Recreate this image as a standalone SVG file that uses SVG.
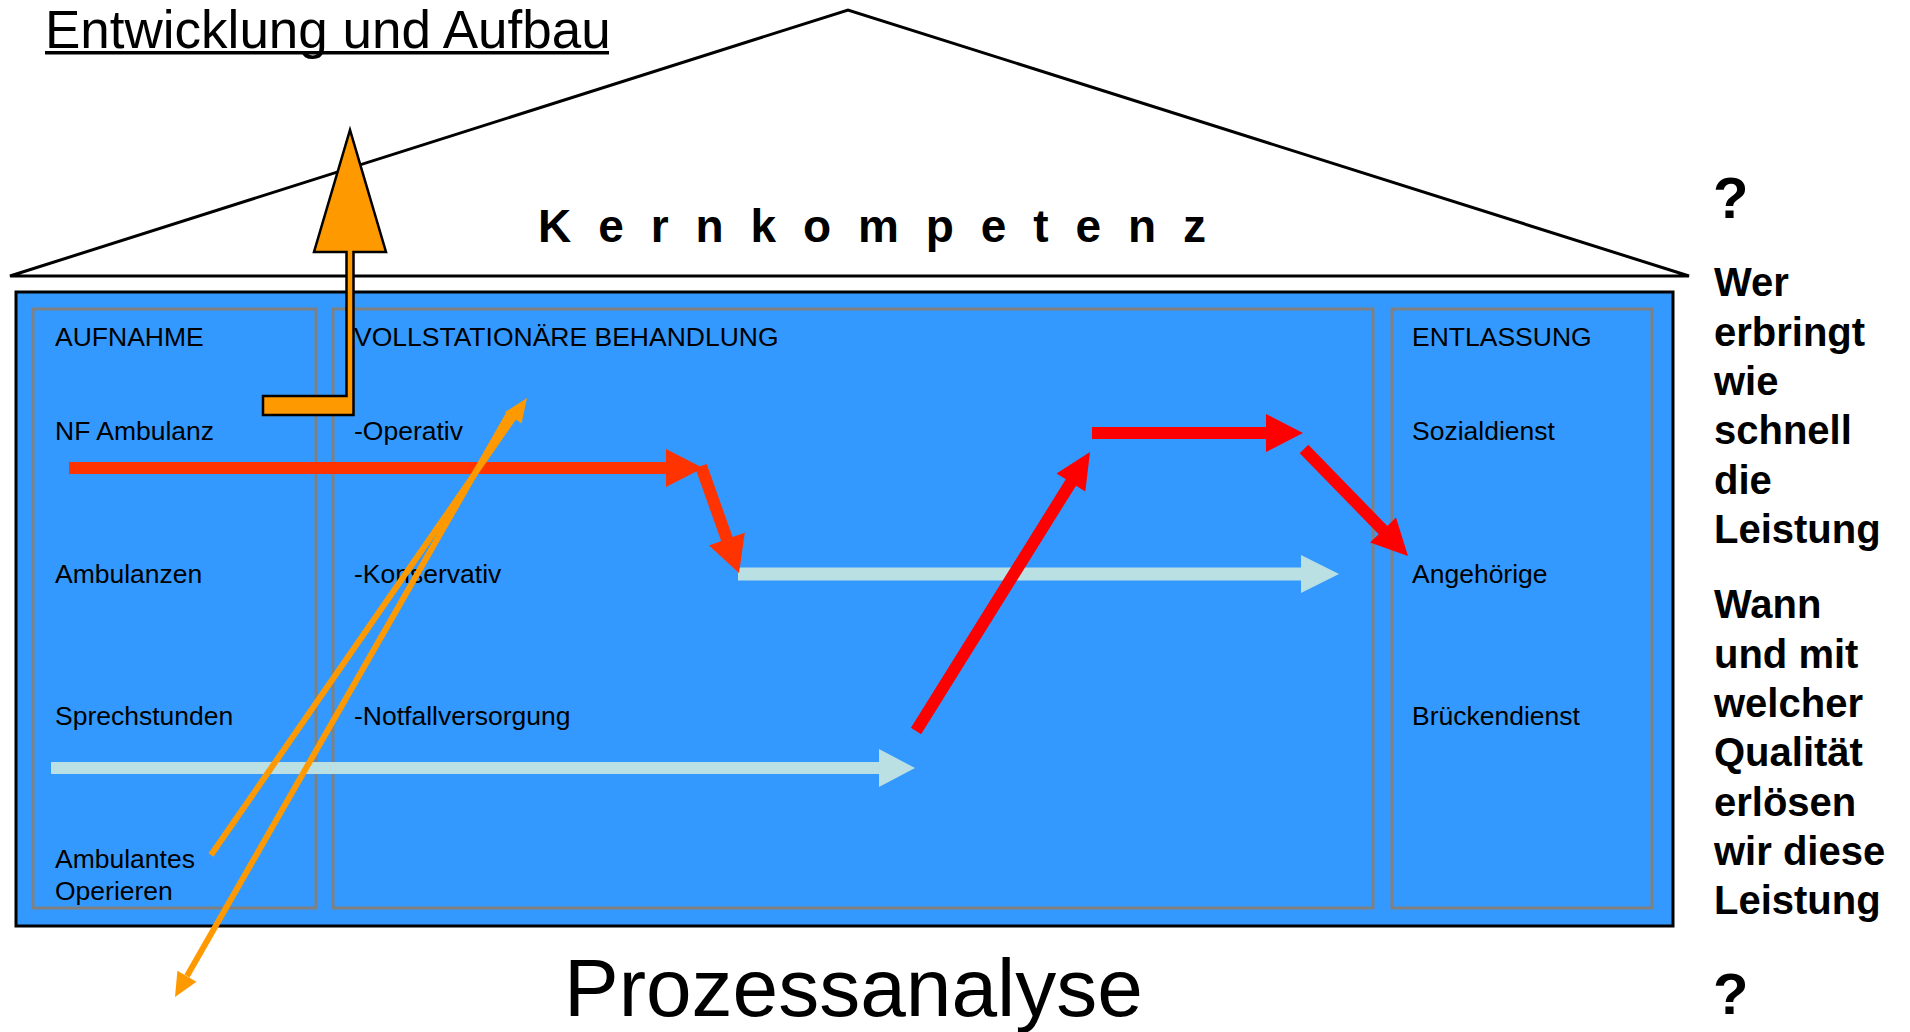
<svg xmlns="http://www.w3.org/2000/svg" width="1910" height="1032" viewBox="0 0 1910 1032">
<style>
text{font-family:"Liberation Sans",Arial,Helvetica,sans-serif;fill:#000}
.lbl{font-size:26.5px}
.q{font-size:40px;font-weight:bold}
.qm{font-size:58px;font-weight:bold}
.panel{fill:none;stroke:#808080;stroke-width:3}
.red1{fill:#FF3300}
.red2{fill:#FF0000}
.lb{fill:#BBE0E3}
.orl{stroke:#FF9900;stroke-width:6;fill:none}
.orh{fill:#FF9900}
</style>
<rect width="1910" height="1032" fill="#fff"/>
<g id="title">
<text x="45" y="48" font-size="53">Entwicklung und Aufbau</text>
<rect x="45" y="51" width="564" height="3.5" fill="#000"/>
</g>
<g id="roof">
<polygon points="10,276 848,10 1689,276" fill="#fff" stroke="#000" stroke-width="3" stroke-linejoin="miter"/>
<text x="538" y="242" font-size="46" font-weight="bold" textLength="668" lengthAdjust="spacing">K e r n k o m p e t e n z</text>
</g>
<g id="house">
<rect x="16" y="292" width="1657" height="634" fill="#3399FF" stroke="#000" stroke-width="3"/>
</g>
<g id="aufnahme">
<rect class="panel" x="33" y="309" width="283" height="599"/>
<text class="lbl" x="55" y="346">AUFNAHME</text>
<text class="lbl" x="55" y="440">NF Ambulanz</text>
<text class="lbl" x="55" y="583">Ambulanzen</text>
<text class="lbl" x="55" y="725">Sprechstunden</text>
<text class="lbl" x="55" y="868">Ambulantes</text>
<text class="lbl" x="55" y="900">Operieren</text>
</g>
<g id="behandlung">
<rect class="panel" x="333" y="309" width="1040" height="599"/>
<text class="lbl" x="354" y="346">VOLLSTATIONÄRE BEHANDLUNG</text>
<text class="lbl" x="354" y="440">-Operativ</text>
<text class="lbl" x="354" y="583">-Konservativ</text>
<text class="lbl" x="354" y="725">-Notfallversorgung</text>
</g>
<g id="entlassung">
<rect class="panel" x="1392" y="309" width="260" height="599"/>
<text class="lbl" x="1412" y="346">ENTLASSUNG</text>
<text class="lbl" x="1412" y="440">Sozialdienst</text>
<text class="lbl" x="1412" y="583">Angehörige</text>
<text class="lbl" x="1412" y="725">Brückendienst</text>
</g>
<g id="fragen">
<text class="qm" x="1713" y="218">?</text>
<text class="q" x="1714" y="296">Wer</text>
<text class="q" x="1714" y="345.5">erbringt</text>
<text class="q" x="1714" y="395">wie</text>
<text class="q" x="1714" y="444">schnell</text>
<text class="q" x="1714" y="493.5">die</text>
<text class="q" x="1714" y="543">Leistung</text>
<text class="q" x="1714" y="618">Wann</text>
<text class="q" x="1714" y="667.5">und mit</text>
<text class="q" x="1714" y="717">welcher</text>
<text class="q" x="1714" y="766">Qualität</text>
<text class="q" x="1714" y="815.5">erlösen</text>
<text class="q" x="1714" y="865">wir diese</text>
<text class="q" x="1714" y="914">Leistung</text>
<text class="qm" x="1713" y="1014">?</text>
</g>
<g id="prozess">
<text x="564" y="1016" font-size="82">Prozessanalyse</text>
</g>
<g id="connectors">
<polygon class="lb" points="738,567.5 1301,567.5 1301,555 1339,574 1301,593 1301,580.5 738,580.5"/>
<polygon class="lb" points="51,762 879,762 879,749 915,768 879,787 879,774 51,774"/>
<polygon class="red1" points="69,462 666,462 666,449 703,468 666,487 666,474 69,474"/>
<polygon class="red1" points="695.3,468 706.7,464 732.6,537.1 744.8,532.7 739,573 709,545.5 721.2,541.1"/>
<polygon class="red2" points="910.9,727.8 1065.8,479.3 1056.5,473.5 1090,452 1085.3,491.5 1076,485.7 921.1,734.2"/>
<polygon class="red2" points="1092,427 1266,427 1266,414 1303,433 1266,452 1266,439 1092,439"/>
<polygon class="red2" points="1308.3,444.8 1387.3,525.9 1396,517.6 1408,556 1370,542.6 1378.7,534.3 1299.7,453.2"/>
<line class="orl" x1="211" y1="855" x2="514" y2="417"/>
<polygon class="orh" points="527,398 521.5,423.5 505.1,412.1"/>
<line class="orl" x1="510" y1="412" x2="187" y2="976"/>
<polygon class="orh" points="175,997 196.5,981.7 177.4,970.7"/>
<polygon fill="#FF9900" stroke="#000" stroke-width="2.5" points="263,396 346.5,396 346.5,252 314,252 350,130 386,252 353.5,252 353.5,415 263,415"/>
</g>
</svg>
